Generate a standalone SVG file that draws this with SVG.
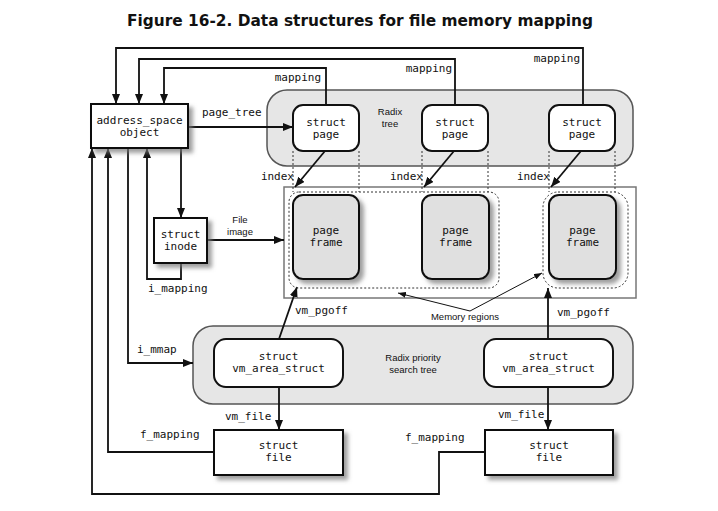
<svg xmlns="http://www.w3.org/2000/svg" width="718" height="511" viewBox="0 0 718 511">
<style>
.title{font-family:"DejaVu Sans",Verdana,sans-serif;font-weight:bold;font-size:15px;fill:#111}
.mono{font-family:"DejaVu Sans Mono","Liberation Mono",monospace;font-size:11px;fill:#111}
.mid{text-anchor:middle}
.end{text-anchor:end}
.sans{font-family:"Liberation Sans",Arial,sans-serif;font-size:9.5px;fill:#111;text-anchor:middle}
.box{fill:#fff;stroke:#111;stroke-width:2}
.frame{fill:#e0e0e0;stroke:#111;stroke-width:2}
.region{fill:#e6e6e6;stroke:#555;stroke-width:1.5}
.mem{fill:#fff;stroke:#777;stroke-width:1.5}
.dots{fill:none;stroke:#333;stroke-width:1;stroke-dasharray:2,2}
.conn{fill:none;stroke:#111;stroke-width:1.8}
.thin{fill:none;stroke:#111;stroke-width:1}
</style>
<defs>
<filter id="sh" x="-20%" y="-20%" width="150%" height="150%">
<feDropShadow dx="4" dy="4" stdDeviation="2" flood-color="#777" flood-opacity="0.7"/>
</filter>
<marker id="ah" markerWidth="10" markerHeight="8" refX="10" refY="4" orient="auto" markerUnits="userSpaceOnUse"><path d="M0,0 L10,4 L0,8 z" fill="#111"/></marker>
<marker id="ahs" markerWidth="8" markerHeight="6" refX="8" refY="3" orient="auto" markerUnits="userSpaceOnUse"><path d="M0,0 L8,3 L0,6 z" fill="#111"/></marker>
</defs>
<rect width="718" height="511" fill="#fff"/>
<text class="title" x="127" y="26" textLength="466" lengthAdjust="spacingAndGlyphs">Figure 16-2. Data structures for file memory mapping</text>

<g id="radix-tree">
<rect class="region" x="267" y="90" width="366" height="76" rx="20"/>
<text class="sans" x="390" y="115">Radix</text>
<text class="sans" x="390" y="127">tree</text>
</g>
<g id="memory">
<rect class="mem" x="284" y="187" width="352" height="111"/>
</g>
<g id="radix-priority">
<rect class="region" x="193" y="326" width="440" height="78" rx="20"/>
<text class="sans" x="413" y="361">Radix priority</text>
<text class="sans" x="413" y="373">search tree</text>
</g>

<g id="connectors">
<!-- mapping lines -->
<polyline class="conn" points="583,105 583,48 116,48 116,104" marker-end="url(#ah)"/>
<polyline class="conn" points="455,105 455,59 139,59 139,104" marker-end="url(#ah)"/>
<polyline class="conn" points="326,105 326,68 164,68 164,104" marker-end="url(#ah)"/>
<!-- page_tree -->
<line class="conn" x1="188" y1="127" x2="293" y2="127" marker-end="url(#ah)"/>
<!-- dotted verticals -->
<line class="dots" x1="293" y1="151" x2="293" y2="192"/>
<line class="dots" x1="359" y1="151" x2="359" y2="192"/>
<line class="dots" x1="422" y1="151" x2="422" y2="192"/>
<line class="dots" x1="488" y1="151" x2="488" y2="192"/>
<line class="dots" x1="549" y1="151" x2="549" y2="192"/>
<line class="dots" x1="615" y1="151" x2="615" y2="192"/>
<!-- index -->
<line class="conn" x1="325" y1="151" x2="295" y2="187" marker-end="url(#ah)"/>
<line class="conn" x1="454" y1="151" x2="424" y2="187" marker-end="url(#ah)"/>
<line class="conn" x1="581" y1="151" x2="551" y2="187" marker-end="url(#ah)"/>
<!-- address_space to inode -->
<line class="conn" x1="181" y1="148" x2="181" y2="218" marker-end="url(#ah)"/>
<!-- i_mapping -->
<polyline class="conn" points="181,263 181,279 147,279 147,148" marker-end="url(#ah)"/>
<!-- file image -->
<line class="conn" x1="207" y1="240" x2="284" y2="240" marker-end="url(#ah)"/>
<!-- i_mmap -->
<polyline class="conn" points="128,148 128,363 193,363" marker-end="url(#ah)"/>
<!-- f_mapping 1 -->
<polyline class="conn" points="214,452 108,452 108,148" marker-end="url(#ah)"/>
<!-- f_mapping 2 -->
<polyline class="conn" points="485,452 439,452 439,494 92,494 92,148" marker-end="url(#ah)"/>
<!-- vm_pgoff -->
<line class="conn" x1="279" y1="339" x2="297" y2="287" marker-end="url(#ah)"/>
<line class="conn" x1="548" y1="339" x2="548" y2="288" marker-end="url(#ah)"/>
<!-- vm_file -->
<line class="conn" x1="279" y1="387" x2="279" y2="430" marker-end="url(#ah)"/>
<line class="conn" x1="548" y1="387" x2="548" y2="430" marker-end="url(#ah)"/>
<!-- memory regions -->
<line class="thin" x1="470" y1="311" x2="398" y2="293" marker-end="url(#ahs)"/>
<line class="thin" x1="470" y1="311" x2="542" y2="273" marker-end="url(#ahs)"/>
</g>

<g id="dotted-regions">
<rect class="dots" x="289" y="192" width="210" height="96" rx="10"/>
<rect class="dots" x="543" y="192" width="85" height="96" rx="15"/>
</g>

<g id="address-space">
<rect class="box" x="91" y="104" width="97" height="44" filter="url(#sh)"/>
<text class="mono mid" x="139.5" y="124">address_space</text>
<text class="mono mid" x="139.5" y="136">object</text>
</g>
<g id="struct-page-1">
<rect class="box" x="293" y="105" width="66" height="46" rx="10"/>
<text class="mono mid" x="326" y="126">struct</text>
<text class="mono mid" x="326" y="138">page</text>
</g>
<g id="struct-page-2">
<rect class="box" x="422" y="105" width="66" height="46" rx="10"/>
<text class="mono mid" x="455" y="126">struct</text>
<text class="mono mid" x="455" y="138">page</text>
</g>
<g id="struct-page-3">
<rect class="box" x="549" y="105" width="66" height="46" rx="10"/>
<text class="mono mid" x="582" y="126">struct</text>
<text class="mono mid" x="582" y="138">page</text>
</g>
<g id="page-frame-1">
<rect class="frame" x="293" y="195" width="66" height="84" rx="10" filter="url(#sh)"/>
<text class="mono mid" x="326" y="234">page</text>
<text class="mono mid" x="326" y="246">frame</text>
</g>
<g id="page-frame-2">
<rect class="frame" x="422" y="195" width="67" height="84" rx="10" filter="url(#sh)"/>
<text class="mono mid" x="455.5" y="234">page</text>
<text class="mono mid" x="455.5" y="246">frame</text>
</g>
<g id="page-frame-3">
<rect class="frame" x="549" y="195" width="67" height="84" rx="10" filter="url(#sh)"/>
<text class="mono mid" x="582.5" y="234">page</text>
<text class="mono mid" x="582.5" y="246">frame</text>
</g>
<g id="struct-inode">
<rect class="box" x="154" y="218" width="53" height="45" filter="url(#sh)"/>
<text class="mono mid" x="180.5" y="238">struct</text>
<text class="mono mid" x="180.5" y="250">inode</text>
</g>
<g id="vm-area-1">
<rect class="box" x="214" y="339" width="129" height="48" rx="12"/>
<text class="mono mid" x="278.5" y="360">struct</text>
<text class="mono mid" x="278.5" y="372">vm_area_struct</text>
</g>
<g id="vm-area-2">
<rect class="box" x="484" y="339" width="129" height="48" rx="12"/>
<text class="mono mid" x="548.5" y="360">struct</text>
<text class="mono mid" x="548.5" y="372">vm_area_struct</text>
</g>
<g id="struct-file-1">
<rect class="box" x="214" y="430" width="129" height="45" filter="url(#sh)"/>
<text class="mono mid" x="278.5" y="449">struct</text>
<text class="mono mid" x="278.5" y="461">file</text>
</g>
<g id="struct-file-2">
<rect class="box" x="485" y="430" width="128" height="45" filter="url(#sh)"/>
<text class="mono mid" x="549" y="449">struct</text>
<text class="mono mid" x="549" y="461">file</text>
</g>

<g id="labels">
<text class="mono end" x="321" y="81">mapping</text>
<text class="mono end" x="452" y="72">mapping</text>
<text class="mono end" x="580" y="62">mapping</text>
<text class="mono" x="202" y="116">page_tree</text>
<text class="mono end" x="294" y="180">index</text>
<text class="mono end" x="423" y="180">index</text>
<text class="mono end" x="550" y="180">index</text>
<text class="sans" x="240" y="223">File</text>
<text class="sans" x="240" y="235">image</text>
<text class="mono" x="148" y="292">i_mapping</text>
<text class="mono" x="295" y="314">vm_pgoff</text>
<text class="mono" x="557" y="316">vm_pgoff</text>
<text class="sans" x="465" y="320">Memory regions</text>
<text class="mono" x="137" y="353">i_mmap</text>
<text class="mono" x="225" y="420">vm_file</text>
<text class="mono" x="498" y="418">vm_file</text>
<text class="mono" x="140" y="438">f_mapping</text>
<text class="mono" x="405" y="441">f_mapping</text>
</g>
</svg>
